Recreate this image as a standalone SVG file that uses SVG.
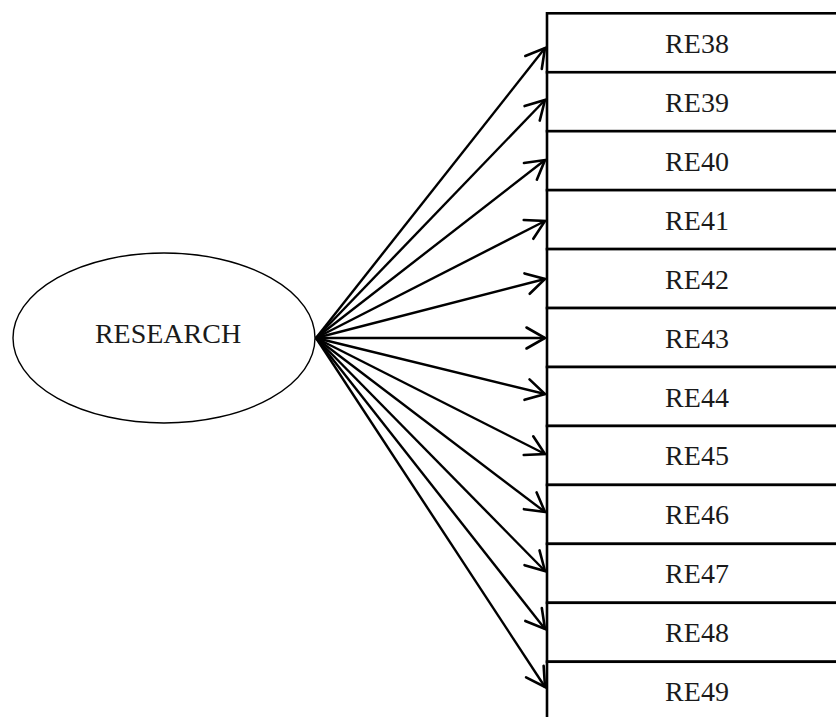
<svg xmlns="http://www.w3.org/2000/svg" width="836" height="717" viewBox="0 0 836 717">
  <style>
    .lbl { font-family: "Liberation Serif", "Times New Roman", serif; font-size: 28px; fill: #1a1a1a; text-anchor: middle; }
    .item { fill: #ffffff; stroke: #000000; stroke-width: 2.6; }
    .latent { fill: #ffffff; stroke: #000000; stroke-width: 1.4; }
    .edge { fill: none; stroke: #000000; stroke-width: 2.4; }
  </style>
  <defs>
    <!-- open V arrowhead, sized in user units -->
    <marker id="open-arrow" markerUnits="userSpaceOnUse" markerWidth="26" markerHeight="26" viewBox="-23 -13 26 26" refX="0" refY="0" orient="auto">
      <path d="M-18.5,-10.5 L0,0 L-18.5,10.5" fill="none" stroke="#000000" stroke-width="2.6" stroke-linecap="round" stroke-linejoin="miter"/>
    </marker>
  </defs>
  <rect width="836" height="717" fill="#ffffff"/>

  <g id="research">
    <ellipse class="latent" cx="164" cy="338" rx="151" ry="85"/>
    <text class="lbl" x="168" y="343.3">RESEARCH</text>
  </g>

  <!-- indicator column: twelve stacked cells, right side runs off the page -->
  <g id="RE38"><rect class="item" x="547" y="13.3" width="300" height="58.95"/><text class="lbl" x="697" y="52.8">RE38</text></g>
  <g id="RE39"><rect class="item" x="547" y="72.25" width="300" height="58.95"/><text class="lbl" x="697" y="111.75">RE39</text></g>
  <g id="RE40"><rect class="item" x="547" y="131.2" width="300" height="58.95"/><text class="lbl" x="697" y="170.7">RE40</text></g>
  <g id="RE41"><rect class="item" x="547" y="190.15" width="300" height="58.95"/><text class="lbl" x="697" y="229.65">RE41</text></g>
  <g id="RE42"><rect class="item" x="547" y="249.1" width="300" height="58.95"/><text class="lbl" x="697" y="288.6">RE42</text></g>
  <g id="RE43"><rect class="item" x="547" y="308.05" width="300" height="58.95"/><text class="lbl" x="697" y="347.55">RE43</text></g>
  <g id="RE44"><rect class="item" x="547" y="367" width="300" height="58.95"/><text class="lbl" x="697" y="406.5">RE44</text></g>
  <g id="RE45"><rect class="item" x="547" y="425.95" width="300" height="58.95"/><text class="lbl" x="697" y="465.45">RE45</text></g>
  <g id="RE46"><rect class="item" x="547" y="484.9" width="300" height="58.95"/><text class="lbl" x="697" y="524.4">RE46</text></g>
  <g id="RE47"><rect class="item" x="547" y="543.85" width="300" height="58.95"/><text class="lbl" x="697" y="583.35">RE47</text></g>
  <g id="RE48"><rect class="item" x="547" y="602.8" width="300" height="58.95"/><text class="lbl" x="697" y="642.3">RE48</text></g>
  <g id="RE49"><rect class="item" x="547" y="661.75" width="300" height="58.95"/><text class="lbl" x="697" y="701.25">RE49</text></g>

  <!-- loadings: fan of arrows from the latent factor to each cell -->
  <g id="connectors">
    <line class="edge" x1="316" y1="338" x2="545" y2="48" marker-end="url(#open-arrow)"/>
    <line class="edge" x1="316" y1="338" x2="545" y2="100" marker-end="url(#open-arrow)"/>
    <line class="edge" x1="316" y1="338" x2="545" y2="160" marker-end="url(#open-arrow)"/>
    <line class="edge" x1="316" y1="338" x2="545" y2="221" marker-end="url(#open-arrow)"/>
    <line class="edge" x1="316" y1="338" x2="545" y2="279" marker-end="url(#open-arrow)"/>
    <line class="edge" x1="316" y1="338" x2="545" y2="338" marker-end="url(#open-arrow)"/>
    <line class="edge" x1="316" y1="338" x2="545" y2="394" marker-end="url(#open-arrow)"/>
    <line class="edge" x1="316" y1="338" x2="545" y2="454" marker-end="url(#open-arrow)"/>
    <line class="edge" x1="316" y1="338" x2="545" y2="512" marker-end="url(#open-arrow)"/>
    <line class="edge" x1="316" y1="338" x2="545" y2="571" marker-end="url(#open-arrow)"/>
    <line class="edge" x1="316" y1="338" x2="545" y2="629" marker-end="url(#open-arrow)"/>
    <line class="edge" x1="316" y1="338" x2="545" y2="687" marker-end="url(#open-arrow)"/>
  </g>
</svg>
